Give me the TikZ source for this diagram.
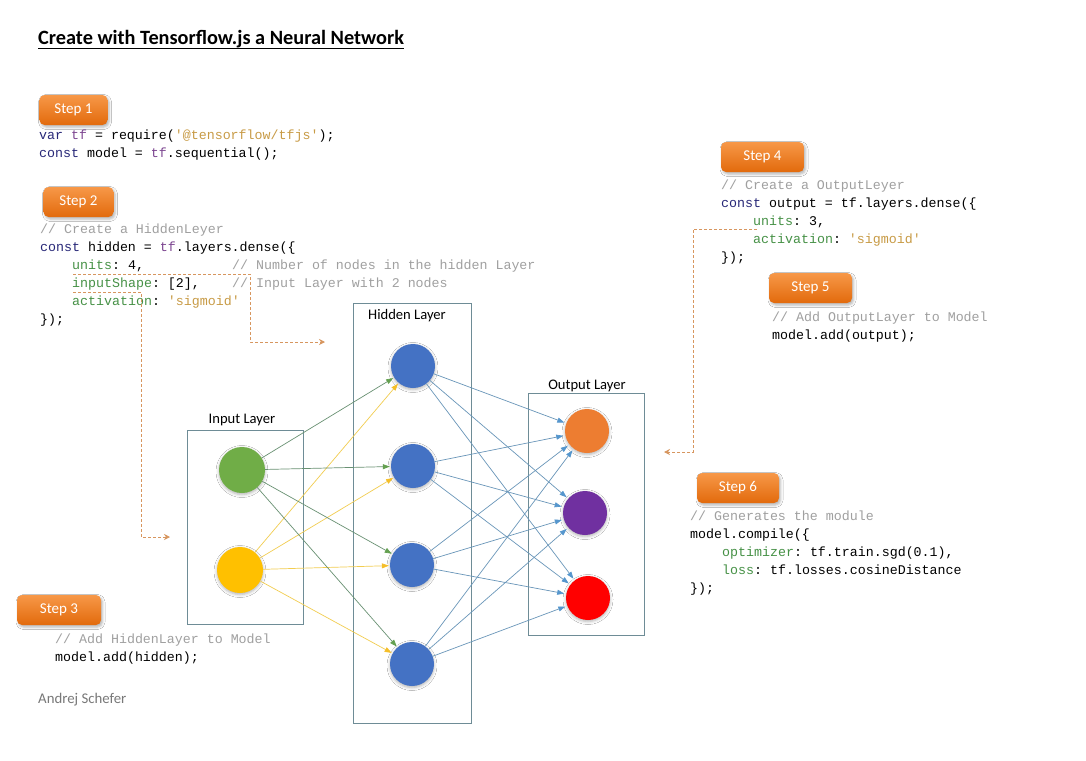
\documentclass[tikz,border=0pt]{standalone}
\usepackage{fontspec}
\setmainfont{Carlito}
\newfontfamily\codefont{Liberation Mono}[Ligatures=TeXOff]
\usetikzlibrary{arrows.meta,shadows.blur}
\frenchspacing
\definecolor{kw}{RGB}{40,40,120}
\definecolor{tfc}{RGB}{125,70,145}
\definecolor{strc}{RGB}{200,155,70}
\definecolor{cmt}{RGB}{160,160,160}
\definecolor{prop}{RGB}{70,145,70}
\definecolor{dashc}{RGB}{215,150,95}
\definecolor{boxc}{RGB}{110,140,150}
\definecolor{ngreen}{RGB}{112,173,71}
\definecolor{nyellow}{RGB}{255,192,0}
\definecolor{nblue}{RGB}{68,114,196}
\definecolor{norange}{RGB}{237,125,49}
\definecolor{npurple}{RGB}{112,48,160}
\definecolor{nred}{RGB}{255,0,0}
\definecolor{gline}{RGB}{105,145,115}
\definecolor{gtip}{RGB}{100,160,80}
\definecolor{yline}{RGB}{242,205,80}
\definecolor{ytip}{RGB}{245,190,40}
\definecolor{bline}{RGB}{105,150,185}
\definecolor{btip}{RGB}{85,150,205}
\definecolor{steptop}{RGB}{247,152,72}
\definecolor{stepbot}{RGB}{226,106,12}
\tikzset{
  code/.style={font=\codefont\fontsize{13.3}{16}\selectfont, anchor=base west, inner sep=0pt},
  stepbox/.style={rounded corners=5pt, top color=steptop, bottom color=stepbot, draw=none,
    text=white, font=\fontsize{15}{17}\selectfont, minimum height=30pt,
    blur shadow={shadow xshift=1.5pt, shadow yshift=-2pt, shadow blur radius=2.5pt, shadow opacity=30}},
  layerbox/.style={draw=boxc, line width=0.8pt, fill=none, inner sep=0pt},
  layerlabel/.style={font=\fontsize{14.6}{17}\selectfont, inner sep=0pt},
  neuron/.style={circle, minimum size=44pt, inner sep=0pt,
    blur shadow={shadow xshift=0pt, shadow yshift=-1.5pt, shadow blur radius=3pt, shadow opacity=30}},
  gedge/.style={draw=gline, line width=0.7pt, shorten >=1pt, -{Triangle[length=7pt,width=5pt,color=gtip]}},
  yedge/.style={draw=yline, line width=0.7pt, shorten >=1pt, -{Triangle[length=7pt,width=5pt,color=ytip]}},
  bedge/.style={draw=bline, line width=0.7pt, shorten >=2pt, -{Triangle[length=7pt,width=5pt,color=btip]}},
  dashline/.style={draw=dashc, line width=0.8pt, dash pattern=on 3pt off 2pt, -{Stealth[length=6pt,width=6pt]}},
}
\begin{document}
\begin{tikzpicture}[x=1pt,y=-1pt]
\useasboundingbox (0,0) rectangle (1086,760);
\fill[white] (0,0) rectangle (1086,760);

% title
\node[anchor=base west, inner sep=0pt, font=\bfseries\fontsize{20.3}{22}\selectfont] (title) at (38,45) {Create with Tensorflow.js a Neural Network};
\draw[line width=0.9pt] ([yshift=-3.5pt]title.base west) -- ([yshift=-3.5pt]title.base east);

% step boxes
\node[stepbox, minimum width=68pt] (s1) at (73.5,110) {Step 1};
\node[stepbox, minimum width=70pt] (s2) at (78.5,202) {Step 2};
\node[stepbox, minimum width=84pt] (s3) at (59,610) {Step 3};
\node[stepbox, minimum width=83pt] (s4) at (762.5,157) {Step 4};
\node[stepbox, minimum width=83pt] (s5) at (810.5,288) {Step 5};
\node[stepbox, minimum width=82pt] (s6) at (738,488) {Step 6};

% step 1 code
\node[code] (c11) at (39,139) {\textcolor{kw}{var} \textcolor{tfc}{tf} = require(\textcolor{strc}{'@tensorflow/tfjs'});};
\node[code] (c12) at (39,157) {\textcolor{kw}{const} model = \textcolor{tfc}{tf}.sequential();};

% step 2 code
\node[code, text=cmt] (c21) at (40,233) {// Create a HiddenLeyer};
\node[code] (c22) at (40,251) {\textcolor{kw}{const} hidden = \textcolor{tfc}{tf}.layers.dense(\{};
\node[code] (c23) at (72,269) {\textcolor{prop}{units}: 4,};
\node[code, text=cmt] (c23c) at (232,269) {// Number of nodes in the hidden Layer};
\node[code] (c24) at (72,287) {\textcolor{prop}{inputShape}: [2],};
\node[code, text=cmt] (c24c) at (232,287) {// Input Layer with 2 nodes};
\node[code] (c25) at (72,305) {\textcolor{prop}{activation}: \textcolor{strc}{'sigmoid'}};
\node[code] (c26) at (40,323) {\});};

% step 3 code
\node[code, text=cmt] (c31) at (55,643) {// Add HiddenLayer to Model};
\node[code] (c32) at (55,661) {model.add(hidden);};

% author
\node[anchor=base west, inner sep=0pt, text={rgb,255:red,120;green,120;blue,120}, font=\fontsize{14.8}{17}\selectfont] (author) at (38,703) {Andrej Schefer};

% step 4 code
\node[code, text=cmt] (c41) at (721,189) {// Create a OutputLeyer};
\node[code] (c42) at (721,207) {\textcolor{kw}{const} output = tf.layers.dense(\{};
\node[code] (c43) at (753,225) {\textcolor{prop}{units}: 3,};
\node[code] (c44) at (753,243) {\textcolor{prop}{activation}: \textcolor{strc}{'sigmoid'}};
\node[code] (c45) at (721,261) {\});};

% step 5 code
\node[code, text=cmt] (c51) at (772,321) {// Add OutputLayer to Model};
\node[code] (c52) at (772,339) {model.add(output);};

% step 6 code
\node[code, text=cmt] (c61) at (690,520) {// Generates the module};
\node[code] (c62) at (690,538) {model.compile(\{};
\node[code] (c63) at (722,556) {\textcolor{prop}{optimizer}: tf.train.sgd(0.1),};
\node[code] (c64) at (722,574) {\textcolor{prop}{loss}: tf.losses.cosineDistance};
\node[code] (c65) at (690,592) {\});};

% layer boxes
\node[layerbox, minimum width=116pt, minimum height=194pt] (inbox) at (245,527) {};
\node[layerbox, minimum width=118pt, minimum height=420pt] (hidbox) at (412,513) {};
\node[layerbox, minimum width=116pt, minimum height=242pt] (outbox) at (586,514) {};
\node[layerlabel] (inlab) at (242,420) {Input Layer};
\node[layerlabel] (hidlab) at (407,316) {Hidden Layer};
\node[layerlabel] (outlab) at (587,386) {Output Layer};

% neurons
\node[neuron, fill=ngreen, minimum size=46pt] (i1) at (242,470) {};
\node[neuron, fill=nyellow, minimum size=46pt] (i2) at (240,570) {};
\node[neuron, fill=nblue] (h1) at (413,366) {};
\node[neuron, fill=nblue] (h2) at (413,466) {};
\node[neuron, fill=nblue] (h3) at (412,565) {};
\node[neuron, fill=nblue] (h4) at (412,664) {};
\node[neuron, fill=norange] (o1) at (587,431) {};
\node[neuron, fill=npurple] (o2) at (585,513) {};
\node[neuron, fill=nred] (o3) at (588,598) {};

% edges
\foreach \h in {h1,h2,h3,h4} {
  \draw[gedge] (i1) -- (\h);
  \draw[yedge] (i2) -- (\h);
}
\foreach \h in {h1,h2,h3,h4} {
  \foreach \o in {o1,o2,o3} {
    \draw[bedge] (\h) -- (\o);
  }
}

% dashed connectors
\coordinate (dA0) at (73,274);
\coordinate (dAc) at (250,342);
\coordinate (dA1) at (325,342);
\draw[dashline] (dA0) -| (dAc) -- (dA1);
\coordinate (dB0) at (73,292);
\coordinate (dBc) at (141,537);
\coordinate (dB1) at (170,537);
\draw[dashline] (dB0) -| (dBc) -- (dB1);
\coordinate (dC0) at (757,229);
\coordinate (dCc) at (693,452);
\coordinate (dC1) at (664,452);
\draw[dashline] (dC0) -| (dCc) -- (dC1);
\end{tikzpicture}
\end{document}
